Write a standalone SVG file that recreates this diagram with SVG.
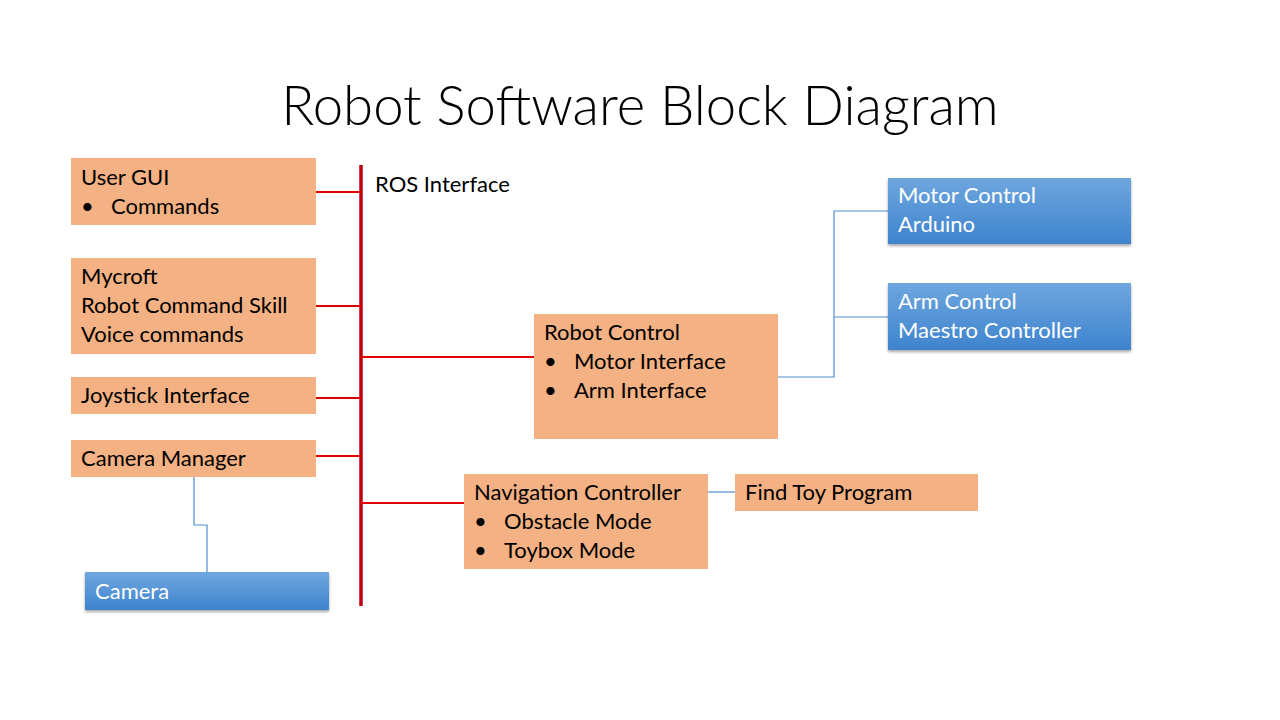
<svg xmlns="http://www.w3.org/2000/svg" width="1280" height="720" viewBox="0 0 1280 720">
<defs>
<linearGradient id="blueGrad" x1="0" y1="0" x2="0" y2="1">
<stop offset="0" stop-color="#6ea6de"/>
<stop offset="1" stop-color="#3e84ce"/>
</linearGradient>
<filter id="shadow" x="-10%" y="-20%" width="120%" height="150%">
<feDropShadow dx="0" dy="2" stdDeviation="1.5" flood-color="#000" flood-opacity="0.35"/>
</filter>
</defs>
<style>
text { font-family: Lato, "Liberation Sans", sans-serif; font-size: 22px; fill: #000; }
.title { font-size: 54.5px; font-weight: 300; }
.orange { fill: #f4b183; }
.blue { fill: url(#blueGrad); filter: url(#shadow); }
.wt { fill: #fff; }
.red { stroke: #e00000; stroke-width: 2; fill: none; }
.bus { stroke: #c00010; stroke-width: 3.5; fill: none; }
.thin { stroke: #4f8fcc; stroke-width: 1.2; fill: none; }
</style>
<rect width="1280" height="720" fill="#fff"/>
<text class="title" x="640" y="125" text-anchor="middle">Robot Software Block Diagram</text>

<g id="connectors">
<line class="bus" x1="361" y1="165" x2="361" y2="606"/>
<line class="red" x1="316" y1="192" x2="361" y2="192"/>
<line class="red" x1="316" y1="306" x2="361" y2="306"/>
<line class="red" x1="316" y1="398" x2="361" y2="398"/>
<line class="red" x1="316" y1="456" x2="361" y2="456"/>
<line class="red" x1="361" y1="357" x2="534" y2="357"/>
<line class="red" x1="361" y1="503" x2="464" y2="503" stroke-width="2.5"/>
<polyline class="thin" points="194,477 194,525 207,525 207,572"/>
<polyline class="thin" points="778,377 834,377 834,211 888,211"/>
<line class="thin" x1="834" y1="317" x2="888" y2="317"/>
<line class="thin" x1="708" y1="492" x2="735" y2="492"/>
</g>

<g id="ros-label"><text x="375" y="192">ROS Interface</text></g>

<g id="user-gui">
<rect class="orange" x="71" y="158" width="245" height="67"/>
<text x="81" y="185">User GUI</text>
<text x="81" y="214">•</text><text x="111" y="214">Commands</text>
</g>

<g id="mycroft">
<rect class="orange" x="71" y="258" width="245" height="96"/>
<text x="81" y="284">Mycroft</text>
<text x="81" y="313">Robot Command Skill</text>
<text x="81" y="342">Voice commands</text>
</g>

<g id="joystick">
<rect class="orange" x="71" y="377" width="245" height="37"/>
<text x="81" y="403">Joystick Interface</text>
</g>

<g id="camera-manager">
<rect class="orange" x="71" y="440" width="245" height="37"/>
<text x="81" y="466">Camera Manager</text>
</g>

<g id="camera">
<rect class="blue" x="85" y="572" width="244" height="38"/>
<text class="wt" x="95" y="599">Camera</text>
</g>

<g id="robot-control">
<rect class="orange" x="534" y="314" width="244" height="125"/>
<text x="544" y="340">Robot Control</text>
<text x="544" y="369">•</text><text x="574" y="369">Motor Interface</text>
<text x="544" y="398">•</text><text x="574" y="398">Arm Interface</text>
</g>

<g id="navigation">
<rect class="orange" x="464" y="474" width="244" height="95"/>
<text x="474" y="500">Navigation Controller</text>
<text x="474" y="529">•</text><text x="504" y="529">Obstacle Mode</text>
<text x="474" y="558">•</text><text x="504" y="558">Toybox Mode</text>
</g>

<g id="find-toy">
<rect class="orange" x="735" y="474" width="243" height="37"/>
<text x="745" y="500">Find Toy Program</text>
</g>

<g id="motor-control">
<rect class="blue" x="888" y="178" width="243" height="66"/>
<text class="wt" x="898" y="203">Motor Control</text>
<text class="wt" x="898" y="232">Arduino</text>
</g>

<g id="arm-control">
<rect class="blue" x="888" y="283" width="243" height="67"/>
<text class="wt" x="898" y="309">Arm Control</text>
<text class="wt" x="898" y="338">Maestro Controller</text>
</g>
</svg>
